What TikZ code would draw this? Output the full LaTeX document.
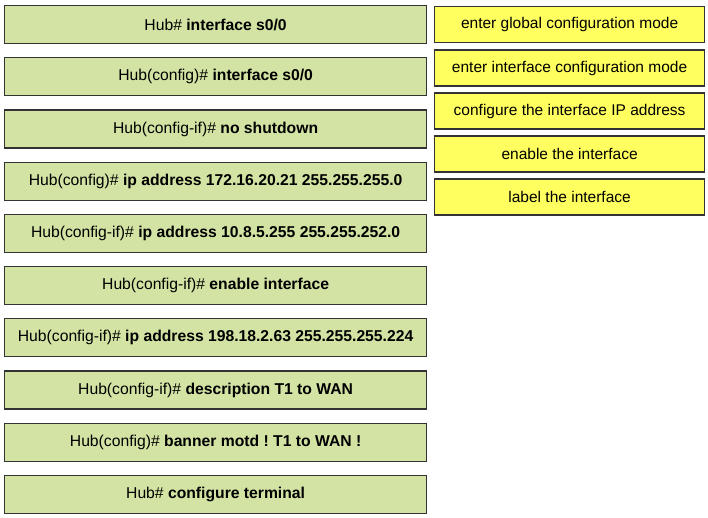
\documentclass[tikz,border=0pt]{standalone}
\usepackage{fontspec}
\setmainfont{Liberation Sans}
\frenchspacing
\definecolor{cmdgreen}{HTML}{D2E3A3}
\definecolor{tagyellow}{HTML}{FFFF60}
\definecolor{edge}{HTML}{333333}
\tikzset{
  cmdbox/.style={draw=edge, line width=1.2pt, fill=cmdgreen, minimum width=422pt, minimum height=38pt, inner sep=0pt, font=\fontsize{15.7pt}{18pt}\selectfont, anchor=north west},
  tagbox/.style={draw=edge, line width=1.2pt, fill=tagyellow, minimum width=270pt, minimum height=36pt, inner sep=0pt, font=\fontsize{15.5pt}{18pt}\selectfont, anchor=north west},
}
\begin{document}
\begin{tikzpicture}[x=1pt,y=-1pt]
\useasboundingbox (0,0) rectangle (708,518);
\fill[white] (0,0) rectangle (708,518);
\node[cmdbox] (c1) at (4,5) {Hub\# \textbf{interface s0/0}};
\node[cmdbox] (c2) at (4,57.2) {Hub(config)\# \textbf{interface s0/0}};
\node[cmdbox] (c3) at (4,109.4) {Hub(config-if)\# \textbf{no shutdown}};
\node[cmdbox] (c4) at (4,161.6) {Hub(config)\# \textbf{ip address 172.16.20.21 255.255.255.0}};
\node[cmdbox] (c5) at (4,213.8) {Hub(config-if)\# \textbf{ip address 10.8.5.255 255.255.252.0}};
\node[cmdbox] (c6) at (4,266) {Hub(config-if)\# \textbf{enable interface}};
\node[cmdbox] (c7) at (4,318.2) {Hub(config-if)\# \textbf{ip address 198.18.2.63 255.255.255.224}};
\node[cmdbox] (c8) at (4,370.4) {Hub(config-if)\# \textbf{description T1 to WAN}};
\node[cmdbox] (c9) at (4,422.6) {Hub(config)\# \textbf{banner motd ! T1 to WAN !}};
\node[cmdbox] (c10) at (4,474.8) {Hub\# \textbf{configure terminal}};
\node[tagbox] (t1) at (434,6) {enter global configuration mode};
\node[tagbox] (t2) at (434,49.5) {enter interface configuration mode};
\node[tagbox] (t3) at (434,92.5) {configure the interface IP address};
\node[tagbox] (t4) at (434,135.5) {enable the interface};
\node[tagbox] (t5) at (434,178.5) {label the interface};
\end{tikzpicture}
\end{document}
